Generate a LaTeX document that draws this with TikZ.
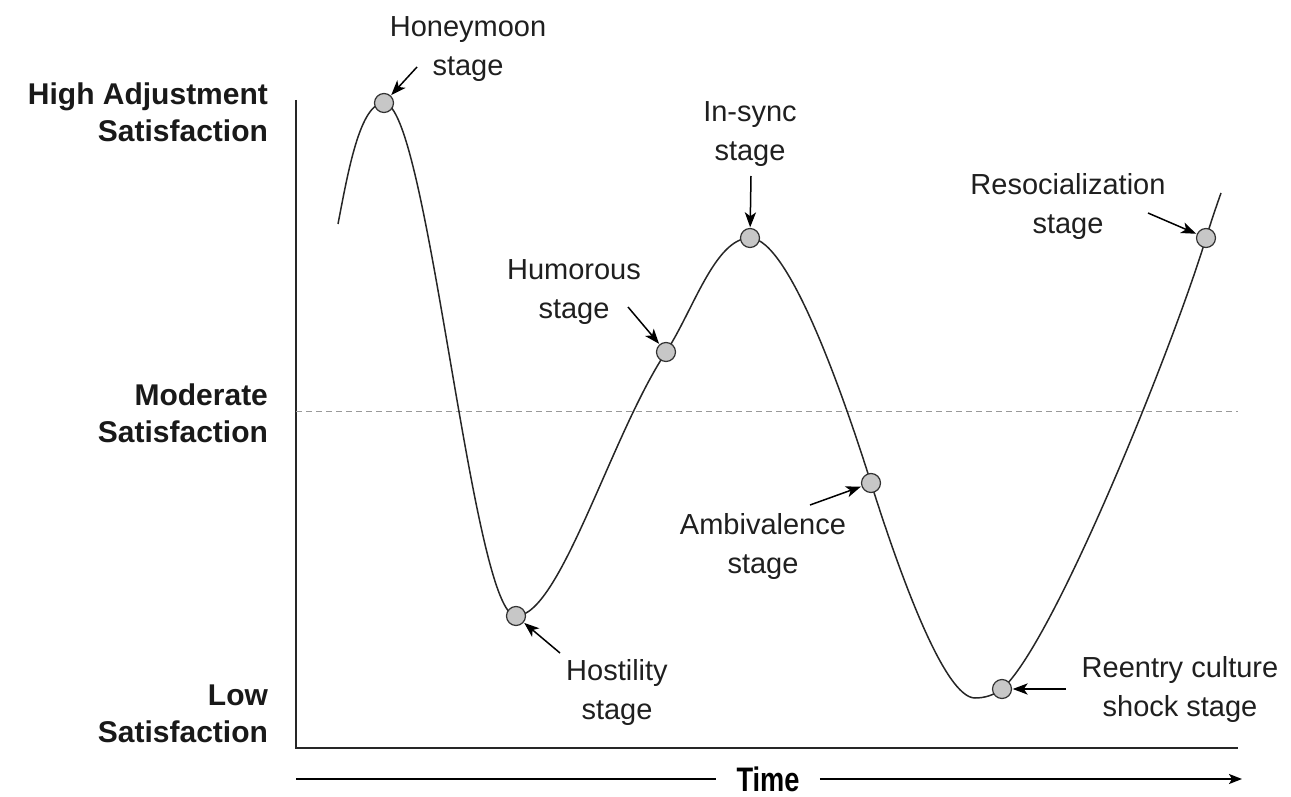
\documentclass[tikz,border=0pt]{standalone}
\usepackage{fontspec}
\setmainfont{Liberation Sans}
\newfontfamily\condbold{Liberation Sans}[FakeStretch=0.8]
\usetikzlibrary{arrows.meta}

\begin{document}
\begin{tikzpicture}[x=0.5pt, y=-0.5pt,
stagedot/.style={circle, draw=black!80, fill=black!22, line width=0.6pt, inner sep=0pt, minimum size=9.5pt},
stagelabel/.style={align=center, text=black!88, font=\fontsize{14.5}{19.5}\selectfont},
levellabel/.style={align=right, anchor=east, text=black!90, font=\fontsize{15}{18.5}\selectfont\bfseries},
pointer/.style={-{Stealth[length=7.5pt, width=5.6pt, inset=2pt]}, line width=0.75pt, shorten >=0.3pt},
]
\useasboundingbox (0,0) rectangle (1291,797);
%%% curve points
\coordinate (start) at (338,224);
\coordinate (honey) at (384,103);
\coordinate (host) at (516,616);
\coordinate (humor) at (666,352);
\coordinate (sync) at (750,238);
\coordinate (ambi) at (871,483);
\coordinate (low) at (975,698);
\coordinate (reentry) at (1002,689);
\coordinate (reso) at (1206,238);
\coordinate (finish) at (1221,193);
%% axes
\coordinate (top) at (296,100);
\coordinate (origin) at (296,748);
\coordinate (right) at (1238,748);
\draw[line width=1pt, black!85] (top) -- (origin) -- (right);
\draw[gray!80, line width=0.5pt, dash pattern=on 3pt off 2pt] (296,411) -- (1238,411);
%% levels
\node[levellabel] (high) at (275,112) {High Adjustment\\Satisfaction};
\node[levellabel] (mod) at (275,413) {Moderate\\Satisfaction};
\node[levellabel] (lowl) at (275,714) {Low\\Satisfaction};
%% time
\node[font=\condbold\fontsize{17}{17}\selectfont\bfseries, inner xsep=10pt, inner ysep=2pt] (time) at (768,779) {Time};
\coordinate (tstart) at (296,779);
\coordinate (tend) at (1242,779);
\draw[line width=0.9pt] (tstart) -- (time);
\draw[line width=0.9pt, -{Stealth[length=6.5pt, width=5pt, inset=1.5pt]}] (time) -- (tend);
%% the curve
\draw[line width=0.75pt, black!85] (start)
  .. controls +(10,-52) and +(-24,0) .. (honey)
  .. controls +(44,0) and +(-44,0) .. (host)
  .. controls +(44,0) and +(-55,83) .. (humor)
  .. controls +(27,-41) and +(-35,0) .. (sync)
  .. controls +(40,0) and +(-24,-76) .. (ambi)
  .. controls +(30,95) and +(-30,0) .. (low)
  .. controls +(10,0) and +(-8,6) .. (reentry)
  .. controls +(52,-46) and +(-32,106) .. (reso)
  .. controls +(5,-16) and +(-5,14) .. (finish);
%% stage dots
\node[stagedot] (d1) at (honey) {};
\node[stagedot] (d2) at (host) {};
\node[stagedot] (d3) at (humor) {};
\node[stagedot] (d4) at (sync) {};
\node[stagedot] (d5) at (ambi) {};
\node[stagedot] (d6) at (reentry) {};
\node[stagedot] (d7) at (reso) {};
%% stage labels
\node[stagelabel] (l1) at (468,49) {Honeymoon\\stage};
\node[stagelabel] (l2) at (617,692) {Hostility\\stage};
\node[stagelabel] (l3) at (574,292) {Humorous\\stage};
\node[stagelabel] (l4) at (750,134) {In-sync\\stage};
\node[stagelabel] (l5) at (763,546) {Ambivalence\\stage};
\node[stagelabel] (l6) at (1180,689) {Reentry culture\\shock stage};
\node[stagelabel] (l7) at (1068,207) {Resocialization\\stage};
%% Lines
\coordinate (a1) at (417,67);
\coordinate (a2) at (560,653);
\coordinate (a3) at (628,307);
\coordinate (a4) at (751,176);
\coordinate (a5) at (810,505);
\coordinate (a6) at (1066,689);
\coordinate (a7) at (1148,213);
\draw[pointer] (a1) -- (d1);
\draw[pointer] (a2) -- (d2);
\draw[pointer] (a3) -- (d3);
\draw[pointer] (a4) -- (d4);
\draw[pointer] (a5) -- (d5);
\draw[pointer] (a6) -- (d6);
\draw[pointer] (a7) -- (d7);
\end{tikzpicture}
\end{document}
